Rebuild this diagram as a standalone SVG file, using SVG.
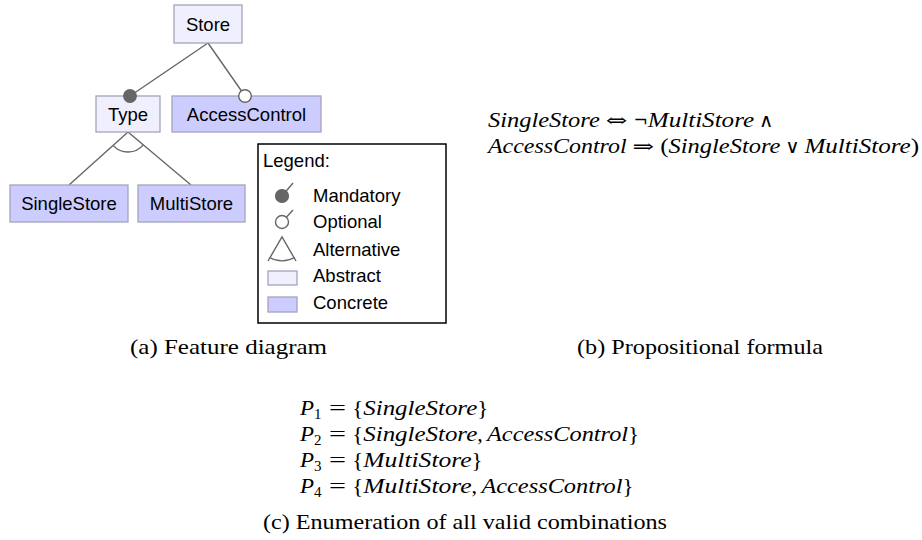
<svg xmlns="http://www.w3.org/2000/svg" width="922" height="540" viewBox="0 0 922 540">
<style>
.abs{fill:#efeffd;stroke:#a4a4bc;stroke-width:1.3}
.con{fill:#ccccff;stroke:#a4a4bc;stroke-width:1.3}
.lbl{font-family:"Liberation Sans",Arial,sans-serif;font-size:18.5px;fill:#000;text-anchor:middle}
.lg{font-family:"Liberation Sans",Arial,sans-serif;font-size:18.5px;fill:#000}
.ln{stroke:#666;stroke-width:1.4;fill:none}
.man{fill:#666;stroke:#666;stroke-width:1.2}
.opt{fill:#fff;stroke:#666;stroke-width:1.4}
.tx{font-family:"Liberation Serif","Times New Roman",serif;font-size:22px;fill:#000}
.i{font-style:italic}
.s{font-family:"DejaVu Serif","DejaVu Sans",serif;font-size:19px}
.sb{font-size:15px}
</style>
<rect width="922" height="540" fill="#fff"/>
<g id="connectors">
<line class="ln" x1="208" y1="43" x2="130" y2="96"/>
<line class="ln" x1="208" y1="43" x2="245" y2="96"/>
<line class="ln" x1="128" y1="132" x2="69" y2="185"/>
<line class="ln" x1="128" y1="132" x2="191" y2="185"/>
<path class="ln" d="M113.1 145.4 A20 20 0 0 0 143.3 144.9"/>
</g>
<g id="node-store">
<rect class="abs" x="174" y="5" width="68" height="38"/>
<text class="lbl" x="208" y="30.5">Store</text>
</g>
<g id="node-type">
<rect class="abs" x="96" y="96" width="64" height="36"/>
<text class="lbl" x="128" y="120.5">Type</text>
<circle class="man" cx="130" cy="96" r="6.3"/>
</g>
<g id="node-accesscontrol">
<rect class="con" x="172" y="96" width="149" height="36"/>
<text class="lbl" x="246.5" y="120.5">AccessControl</text>
<circle class="opt" cx="245" cy="96" r="6.3"/>
</g>
<g id="node-singlestore">
<rect class="con" x="10" y="185" width="118" height="37"/>
<text class="lbl" x="69" y="210">SingleStore</text>
</g>
<g id="node-multistore">
<rect class="con" x="138" y="185" width="107" height="37"/>
<text class="lbl" x="191.5" y="210">MultiStore</text>
</g>
<g id="legend">
<rect x="258" y="144" width="188" height="179" fill="#fff" stroke="#000" stroke-width="1.5"/>
<text class="lg" x="263" y="167">Legend:</text>
<line class="ln" x1="282" y1="196" x2="293" y2="183"/>
<circle class="man" cx="282" cy="196" r="6.5"/>
<text class="lg" x="313" y="202">Mandatory</text>
<line class="ln" x1="282" y1="222" x2="293" y2="210"/>
<circle class="opt" cx="282" cy="222" r="6.5"/>
<text class="lg" x="313" y="228">Optional</text>
<path class="ln" d="M268 261 L282 237 L296 261"/>
<path class="ln" d="M269.5 257.5 A25 25 0 0 0 294.5 257.5"/>
<text class="lg" x="313" y="256">Alternative</text>
<rect class="abs" x="268" y="271" width="29" height="14"/>
<text class="lg" x="313" y="282">Abstract</text>
<rect class="con" x="268" y="297" width="29" height="15"/>
<text class="lg" x="313" y="309">Concrete</text>
</g>
<g id="formula">
<text class="tx" y="127"><tspan class="i" x="488" textLength="111.8" lengthAdjust="spacingAndGlyphs">SingleStore</tspan><tspan class="s" x="605.8" textLength="21.6" lengthAdjust="spacingAndGlyphs">⇔</tspan><tspan class="s" x="633.4" textLength="14.4" lengthAdjust="spacingAndGlyphs">¬</tspan><tspan class="i" x="647.8" textLength="106.3" lengthAdjust="spacingAndGlyphs">MultiStore</tspan><tspan class="s" x="758.9" textLength="14.4" lengthAdjust="spacingAndGlyphs">∧</tspan></text>
<text class="tx" y="153"><tspan class="i" x="488" textLength="138.6" lengthAdjust="spacingAndGlyphs">AccessControl</tspan><tspan class="s" x="632.6" textLength="21.6" lengthAdjust="spacingAndGlyphs">⇒</tspan><tspan x="660.2" textLength="8.4" lengthAdjust="spacingAndGlyphs">(</tspan><tspan class="i" x="668.6" textLength="111.8" lengthAdjust="spacingAndGlyphs">SingleStore</tspan><tspan class="s" x="785.2" textLength="14.4" lengthAdjust="spacingAndGlyphs">∨</tspan><tspan class="i" x="804.4" textLength="106.3" lengthAdjust="spacingAndGlyphs">MultiStore</tspan><tspan x="910.7" textLength="8.4" lengthAdjust="spacingAndGlyphs">)</tspan></text>
</g>
<g id="captions">
<text class="tx" x="130" y="354" textLength="197" lengthAdjust="spacingAndGlyphs">(a) Feature diagram</text>
<text class="tx" x="577" y="354" textLength="246" lengthAdjust="spacingAndGlyphs">(b) Propositional formula</text>
<text class="tx" x="263" y="529" textLength="404" lengthAdjust="spacingAndGlyphs">(c) Enumeration of all valid combinations</text>
</g>
<g id="enumeration">
<text class="tx" y="415"><tspan class="i" x="300" textLength="14" lengthAdjust="spacingAndGlyphs">P</tspan><tspan class="sb" x="314" dy="3.5">1</tspan><tspan x="329" dy="-3.5" textLength="17" lengthAdjust="spacingAndGlyphs">=</tspan><tspan x="352.3" textLength="11" lengthAdjust="spacingAndGlyphs">{</tspan><tspan class="i" x="363.3" textLength="113.9" lengthAdjust="spacingAndGlyphs">SingleStore</tspan><tspan x="477.2" textLength="11" lengthAdjust="spacingAndGlyphs">}</tspan></text>
<text class="tx" y="441"><tspan class="i" x="300" textLength="14" lengthAdjust="spacingAndGlyphs">P</tspan><tspan class="sb" x="314" dy="3.5">2</tspan><tspan x="329" dy="-3.5" textLength="17" lengthAdjust="spacingAndGlyphs">=</tspan><tspan x="352.3" textLength="11" lengthAdjust="spacingAndGlyphs">{</tspan><tspan class="i" x="363.3" textLength="113.9" lengthAdjust="spacingAndGlyphs">SingleStore</tspan><tspan x="477.2">,</tspan><tspan class="i" x="487" textLength="141.1" lengthAdjust="spacingAndGlyphs">AccessControl</tspan><tspan x="628.1" textLength="11" lengthAdjust="spacingAndGlyphs">}</tspan></text>
<text class="tx" y="467"><tspan class="i" x="300" textLength="14" lengthAdjust="spacingAndGlyphs">P</tspan><tspan class="sb" x="314" dy="3.5">3</tspan><tspan x="329" dy="-3.5" textLength="17" lengthAdjust="spacingAndGlyphs">=</tspan><tspan x="352.3" textLength="11" lengthAdjust="spacingAndGlyphs">{</tspan><tspan class="i" x="363.3" textLength="108.3" lengthAdjust="spacingAndGlyphs">MultiStore</tspan><tspan x="471.6" textLength="11" lengthAdjust="spacingAndGlyphs">}</tspan></text>
<text class="tx" y="493"><tspan class="i" x="300" textLength="14" lengthAdjust="spacingAndGlyphs">P</tspan><tspan class="sb" x="314" dy="3.5">4</tspan><tspan x="329" dy="-3.5" textLength="17" lengthAdjust="spacingAndGlyphs">=</tspan><tspan x="352.3" textLength="11" lengthAdjust="spacingAndGlyphs">{</tspan><tspan class="i" x="363.3" textLength="108.3" lengthAdjust="spacingAndGlyphs">MultiStore</tspan><tspan x="471.6">,</tspan><tspan class="i" x="481.4" textLength="141.1" lengthAdjust="spacingAndGlyphs">AccessControl</tspan><tspan x="622.5" textLength="11" lengthAdjust="spacingAndGlyphs">}</tspan></text>
</g>
</svg>
